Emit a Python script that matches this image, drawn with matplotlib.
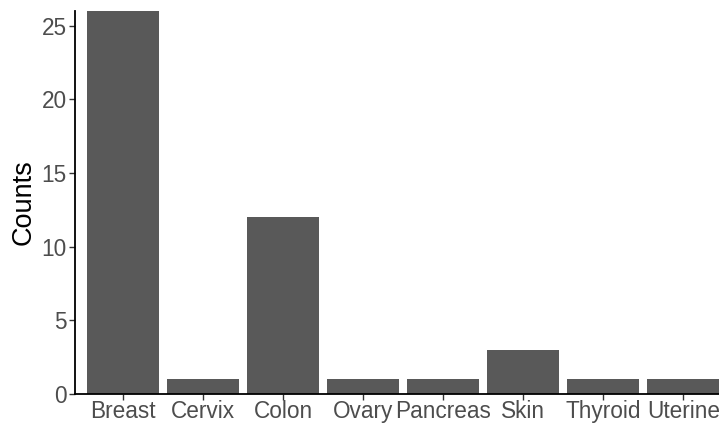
import numpy as np
import matplotlib
matplotlib.use("Agg")
import matplotlib.pyplot as plt

plt.rcParams['font.family'] = ['Liberation Sans', 'DejaVu Sans']

cancer_types = ["Breast", "Cervix", "Colon", "Ovary", "Pancreas", "Skin", "Thyroid", "Uterine"]
counts = [26, 1, 12, 1, 1, 3, 1, 1]

fig = plt.figure(figsize=(7.19, 4.23), dpi=100)
ax = fig.add_axes([75.3 / 719, 29 / 423, 1 - 75.3 / 719, 383 / 423])

x = np.arange(1, len(cancer_types) + 1)
ax.bar(x, counts, width=0.9, color="#595959")

ax.set_xlim(0.4, 0.4 + (719 - 75.3) / 80)
ax.set_ylim(0, 26)
ax.set_xticks(x)
ax.set_xticklabels(cancer_types)
ax.set_yticks([0, 5, 10, 15, 20, 25])
ax.set_ylabel("Counts", fontsize=19.5, color="black", labelpad=4)

for s in ["top", "right"]:
    ax.spines[s].set_visible(False)
for s in ["left", "bottom"]:
    ax.spines[s].set_linewidth(1.3)
    ax.spines[s].set_color("black")
ax.tick_params(axis="both", labelsize=16.3, labelcolor="#4D4D4D", color="#333333",
               length=4, width=1)
ax.tick_params(axis="x", pad=0.5)
ax.tick_params(axis="y", pad=2)

fig.savefig("out.png", dpi=100)
